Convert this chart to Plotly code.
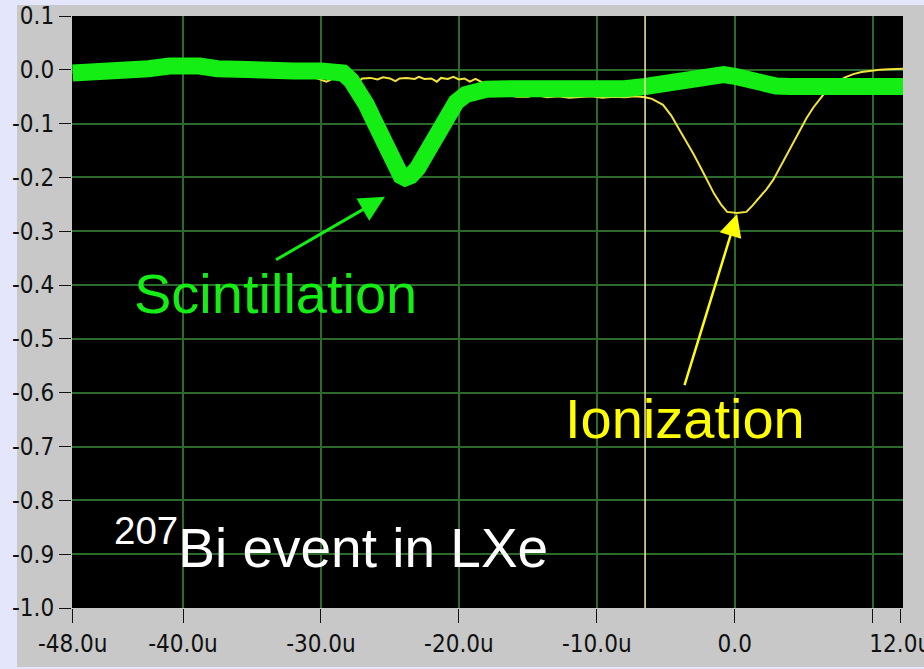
import plotly.graph_objects as go

# ---- waveform data (time in microseconds, amplitude in V) ----
scint_t = [-48.0, -46.0, -44.0, -42.5, -41.0, -40.0, -38.8, -37.5, -36.0, -34.0, -32.0, -30.0,
           -29.0, -28.4, -27.8, -27.2, -26.7, -26.2, -25.7, -25.2, -24.8, -24.5, -24.2, -23.9,
           -23.5, -23.0, -22.5, -22.0, -21.4, -20.8, -20.2, -19.5, -18.8, -18.0, -16.0, -14.0,
           -12.0, -10.0, -8.0, -6.5, -5.0, -4.0, -3.0, -2.0, -1.5, -0.8, 0.0, 0.8, 1.5, 2.3,
           3.0, 4.0, 5.0, 6.5, 8.0, 9.5, 11.0, 12.2]
scint_v = [-0.006, -0.005, -0.003, 0.002, 0.007, 0.008, 0.007, 0.002, -0.001, -0.002, -0.002, -0.002,
           -0.003, -0.006, -0.020, -0.040, -0.065, -0.092, -0.120, -0.150, -0.172, -0.187, -0.197, -0.201,
           -0.197, -0.183, -0.162, -0.138, -0.108, -0.082, -0.060, -0.046, -0.039, -0.036, -0.035, -0.036,
           -0.036, -0.036, -0.035, -0.031, -0.026, -0.022, -0.015, -0.010, -0.008, -0.009, -0.012, -0.018,
           -0.023, -0.027, -0.030, -0.031, -0.030, -0.030, -0.031, -0.031, -0.031, -0.031]

ion_t = [-48.0, -44.0, -40.0, -36.0, -32.0, -30.5, -29.6, -29.0, -28.2, -27.6, -27.3, -27.0, -26.4,
         -25.9, -25.5, -25.0, -24.6, -24.3, -23.8, -23.2, -22.9, -22.5, -22.0, -21.6, -21.3, -20.8,
         -20.4, -20.0, -19.6, -19.2, -18.8, -17.8, -16.8, -15.8, -15.0, -14.4, -13.6, -12.8, -12.0,
         -11.2, -10.4, -9.6, -8.8, -8.0, -7.2, -6.5, -6.0, -5.2, -4.6, -4.0, -3.5, -3.0, -2.5, -2.0,
         -1.5, -1.0, -0.55, 0.15, 0.85, 1.3, 1.8, 2.3, 2.8, 3.3, 3.8, 4.3, 4.7, 5.2, 5.7, 6.4, 7.0,
         7.5, 8.0, 8.6, 9.2, 9.8, 10.5, 11.2, 12.2]
ion_v = [-0.005, -0.005, -0.005, -0.006, -0.008, -0.014, -0.022, -0.015, -0.016, -0.015, -0.022, -0.016,
         -0.015, -0.018, -0.014, -0.016, -0.021, -0.016, -0.015, -0.017, -0.013, -0.017, -0.016, -0.022,
         -0.015, -0.017, -0.013, -0.018, -0.016, -0.022, -0.017, -0.030, -0.045, -0.050, -0.050, -0.047,
         -0.051, -0.049, -0.052, -0.050, -0.049, -0.052, -0.050, -0.051, -0.049, -0.051, -0.054, -0.065,
         -0.085, -0.112, -0.133, -0.156, -0.180, -0.205, -0.230, -0.250, -0.264, -0.266, -0.264, -0.252,
         -0.238, -0.222, -0.204, -0.180, -0.155, -0.132, -0.112, -0.090, -0.070, -0.047, -0.032, -0.021,
         -0.014, -0.008, -0.004, -0.002, 0.000, 0.001, 0.002]

cursor_t = -6.5

# labelled ticks; the unlabelled 10u division comes from the grid (minor) ticks
x_tickvals = [-48, -40, -30, -20, -10, 0, 12]
x_ticktext = ["-48.0u", "-40.0u", "-30.0u", "-20.0u", "-10.0u", "0.0", "12.0u"]
x_gridvals = [-40, -30, -20, -10, 0, 10]
y_tickvals = [0.1, 0.0, -0.1, -0.2, -0.3, -0.4, -0.5, -0.6, -0.7, -0.8, -0.9, -1.0]
y_ticktext = ["0.1", "0.0", "-0.1", "-0.2", "-0.3", "-0.4", "-0.5", "-0.6", "-0.7", "-0.8", "-0.9", "-1.0"]
y_gridvals = [0.0, -0.1, -0.2, -0.3, -0.4, -0.5, -0.6, -0.7, -0.8, -0.9]

GREEN = "#14ee14"
YELLOW = "#f2e43c"
GRID = "#2c6a2c"
PANEL = "#c8c8c8"
LAVENDER = "#e4e6fc"
TICKFONT = dict(family="Liberation Sans Narrow, DejaVu Sans Condensed, Arial Narrow, sans-serif",
                size=24, color="#111111")

fig = go.Figure()
fig.add_trace(go.Scatter(x=ion_t, y=ion_v, mode="lines",
                         line=dict(color=YELLOW, width=2), hoverinfo="skip"))
fig.add_trace(go.Scatter(x=scint_t, y=scint_v, mode="lines",
                         line=dict(color=GREEN, width=17), hoverinfo="skip"))

# cursor line
fig.add_shape(type="line", xref="x", yref="paper", x0=cursor_t, x1=cursor_t, y0=0, y1=1,
              line=dict(color="#f4eca6", width=1.5), layer="above")

# lavender frame strips around the grey instrument panel
W, H = 924, 669
L, R, T, B = 72, 21, 16, 61
pw, ph = W - L - R, H - T - B
def px_x(p):
    return (p - L) / pw
def px_y(p):
    return (H - B - p) / ph
for x0, x1, y0, y1 in [(0, 17, 0, H), (0, W, 0, 5), (0, W, 667, H)]:
    fig.add_shape(type="rect", xref="paper", yref="paper",
                  x0=px_x(x0), x1=px_x(x1), y0=px_y(y1), y1=px_y(y0),
                  fillcolor=LAVENDER, line=dict(width=0), layer="below")

TXT = "Liberation Sans, Arial, sans-serif"
# labels hang below the tail of their arrows
fig.add_annotation(x=-25.36, y=-0.236, ax=-33.26, ay=-0.353, axref="x", ayref="y",
                   text="Scintillation", xanchor="center", yanchor="top",
                   font=dict(family=TXT, size=56, color=GREEN),
                   showarrow=True, arrowhead=2, arrowsize=1.7, arrowwidth=3, arrowcolor=GREEN)
fig.add_annotation(x=0.17, y=-0.268, ax=-3.64, ay=-0.586, axref="x", ayref="y",
                   text="Ionization", xanchor="center", yanchor="top",
                   font=dict(family=TXT, size=56, color="#ffff00"),
                   showarrow=True, arrowhead=2, arrowsize=1.8, arrowwidth=2.5, arrowcolor="#ffff00")
fig.add_annotation(x=-29.3, y=-0.881, text="<sup>207</sup>Bi event in LXe", showarrow=False,
                   font=dict(family=TXT, size=55, color="#ffffff"))

fig.update_layout(
    width=W, height=H,
    margin=dict(l=L, r=R, t=T, b=B, autoexpand=False),
    paper_bgcolor=PANEL, plot_bgcolor="#000000",
    showlegend=False,
    xaxis=dict(range=[-48.05, 12.2], tickmode="array", tickvals=x_tickvals, ticktext=x_ticktext,
               ticks="outside", ticklen=14, tickcolor="#111111", tickwidth=1,
               tickfont=TICKFONT, showgrid=False, zeroline=False, showline=False,
               automargin=False, ticklabeloverflow="allow",
               minor=dict(tickmode="array", tickvals=x_gridvals, showgrid=True,
                          gridcolor=GRID, gridwidth=2, ticks="outside", ticklen=14,
                          tickcolor="#111111", tickwidth=1)),
    yaxis=dict(range=[-1.0, 0.1], tickmode="array", tickvals=y_tickvals, ticktext=y_ticktext,
               ticks="outside", ticklen=12, tickcolor="#111111", tickwidth=1,
               tickfont=TICKFONT, showgrid=False, zeroline=False, showline=False,
               automargin=False, ticklabeloverflow="allow",
               minor=dict(tickmode="array", tickvals=y_gridvals, showgrid=True,
                          gridcolor=GRID, gridwidth=2, ticks="")),
)

fig.write_html("out.html")
